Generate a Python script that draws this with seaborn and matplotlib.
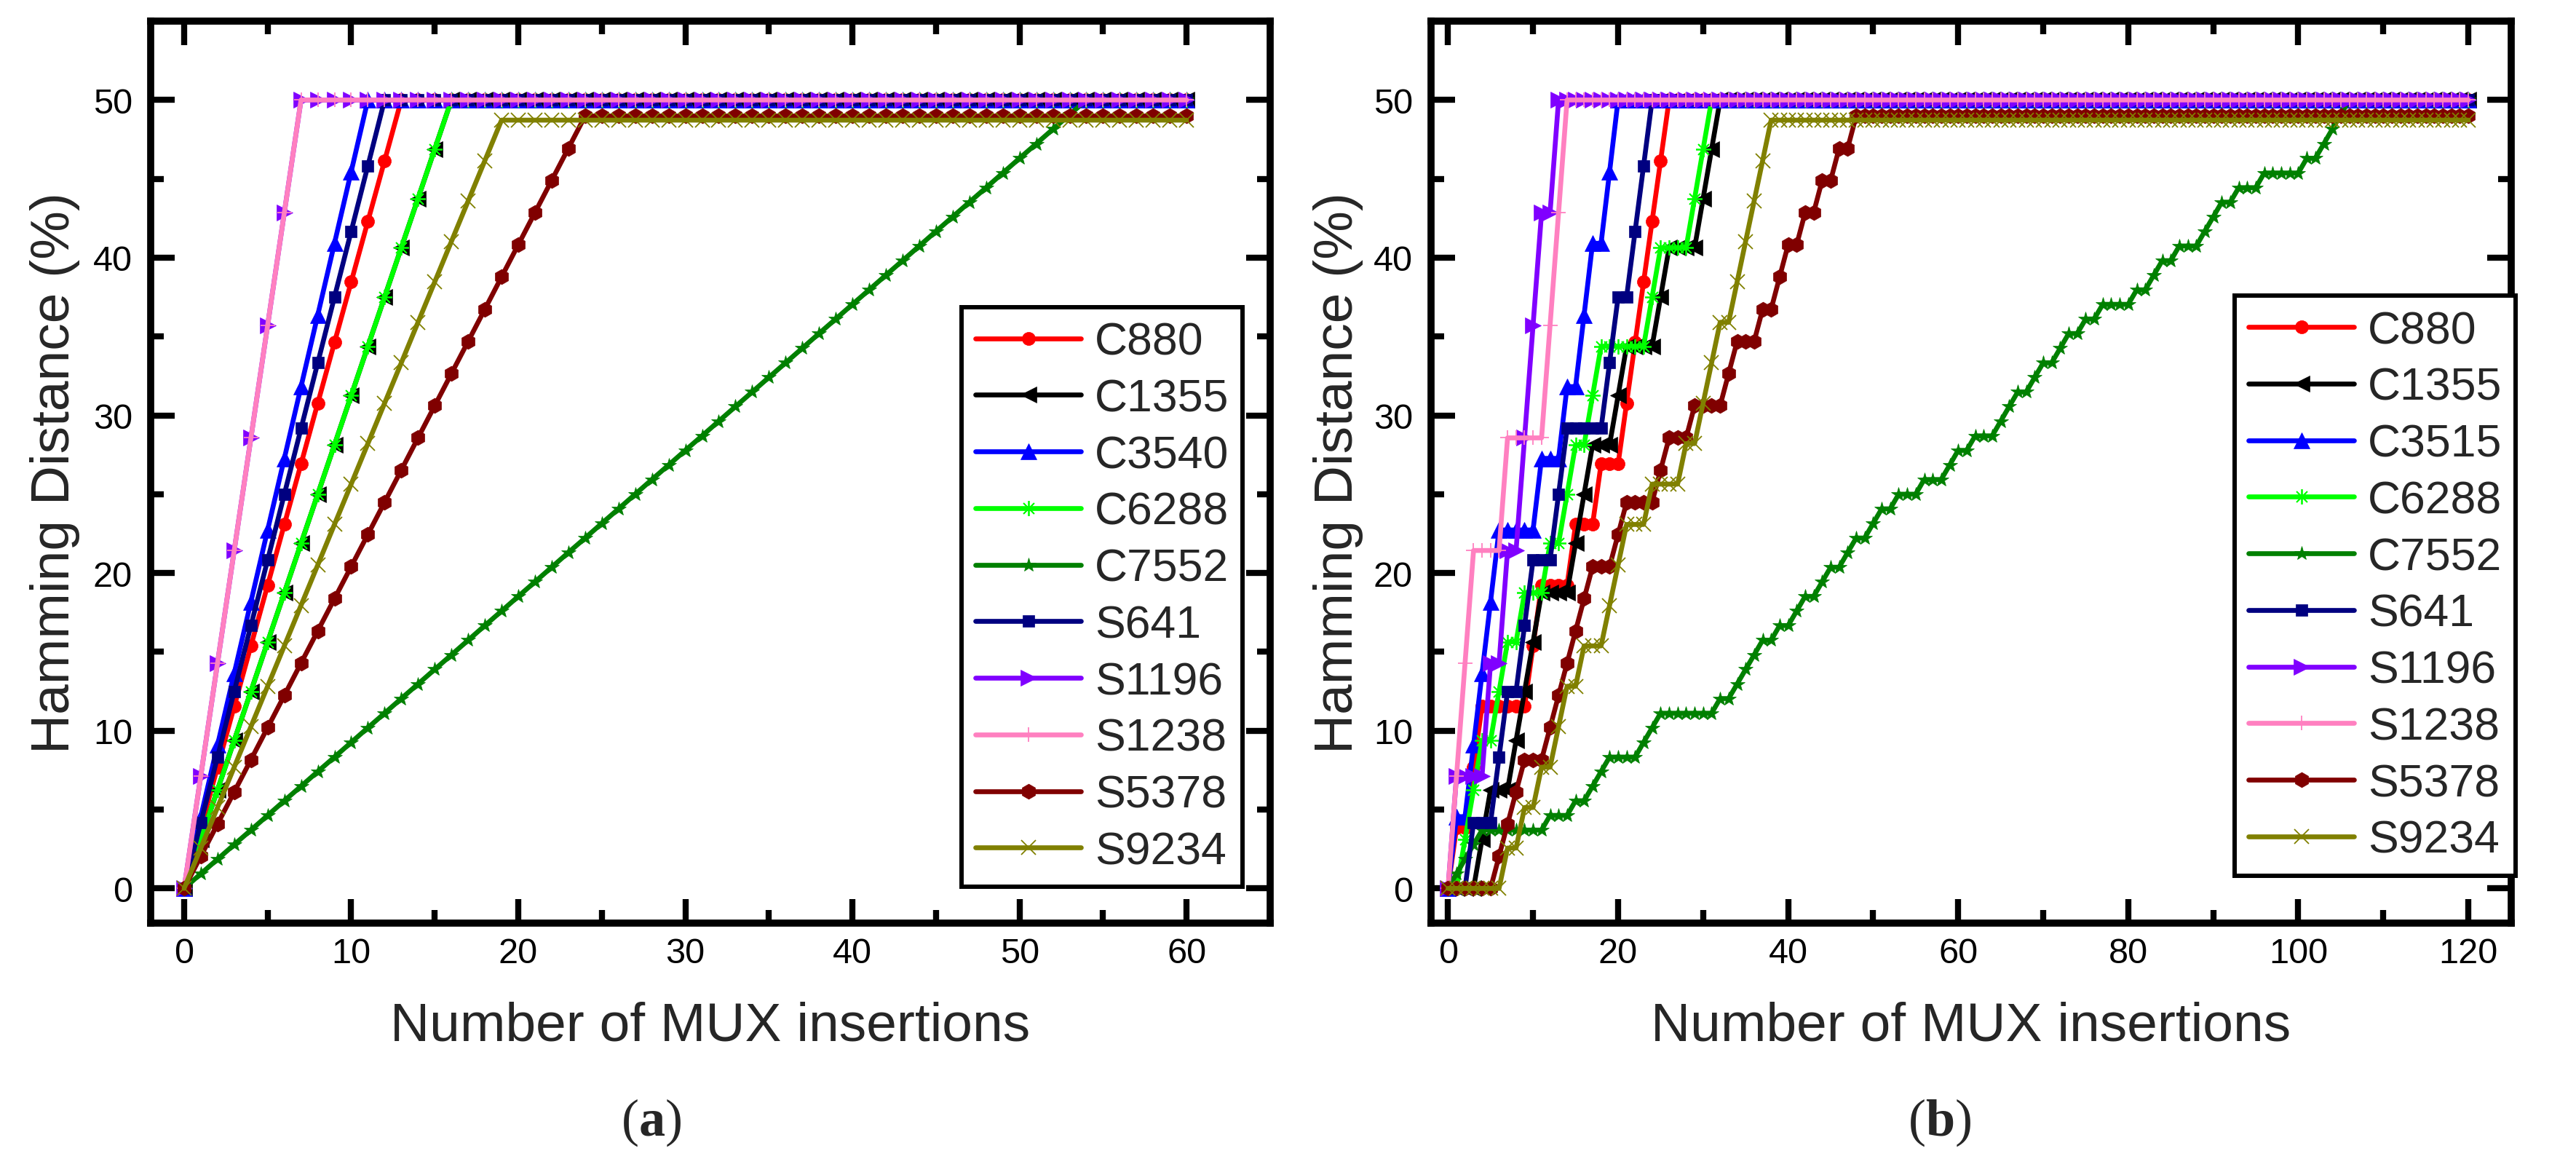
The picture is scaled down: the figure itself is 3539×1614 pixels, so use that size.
import matplotlib
matplotlib.use("Agg")
import matplotlib.pyplot as plt
import seaborn as sns
import pandas as pd
from matplotlib.ticker import MultipleLocator

# ---------------- data ----------------
NAMES_A = ["C880", "C1355", "C3540", "C6288", "C7552", "S641", "S1196", "S1238", "S5378", "S9234"]
NAMES_B = ["C880", "C1355", "C3515", "C6288", "C7552", "S641", "S1196", "S1238", "S5378", "S9234"]
X_A = list(range(0, 61))
X_B = list(range(0, 121))

# panel (a)
C880_A = [0, 3.85, 7.69, 11.54, 15.38, 19.23, 23.08, 26.92, 30.77, 34.62, 38.46, 42.31, 46.15, 50.0] + [50.0] * 47
C1355_A = [0, 3.13, 6.25, 9.38, 12.5, 15.63, 18.75, 21.88, 25.0, 28.13, 31.25, 34.38, 37.5, 40.63, 43.75, 46.88, 50.0] + [50.0] * 44
C3540_A = [0, 4.55, 9.09, 13.64, 18.18, 22.73, 27.27, 31.82, 36.36, 40.91, 45.45, 50.0] + [50.0] * 49
C6288_A = [0, 3.13, 6.25, 9.38, 12.5, 15.63, 18.75, 21.88, 25.0, 28.13, 31.25, 34.38, 37.5, 40.63, 43.75, 46.88, 50.0] + [50.0] * 44
C7552_A = [0, 0.93, 1.85, 2.78, 3.70, 4.63, 5.56, 6.48, 7.41, 8.33, 9.26, 10.19, 11.11, 12.04, 12.96, 13.89,
           14.81, 15.74, 16.67, 17.59, 18.52, 19.44, 20.37, 21.30, 22.22, 23.15, 24.07, 25.00, 25.93, 26.85,
           27.78, 28.70, 29.63, 30.56, 31.48, 32.41, 33.33, 34.26, 35.19, 36.11, 37.04, 37.96, 38.89, 39.81,
           40.74, 41.67, 42.59, 43.52, 44.44, 45.37, 46.30, 47.22, 48.15, 49.07, 50.0] + [50.0] * 6
S641_A = [0, 4.17, 8.33, 12.5, 16.67, 20.83, 25.0, 29.17, 33.33, 37.5, 41.67, 45.83, 50.0] + [50.0] * 48
S1196_A = [0, 7.14, 14.29, 21.43, 28.57, 35.71, 42.86, 50.0] + [50.0] * 53
S1238_A = [0, 7.14, 14.29, 21.43, 28.57, 35.71, 42.86, 50.0] + [50.0] * 53
S5378_A = [0, 2.04, 4.08, 6.12, 8.16, 10.2, 12.24, 14.29, 16.33, 18.37, 20.41, 22.45, 24.49, 26.53, 28.57,
           30.61, 32.65, 34.69, 36.73, 38.78, 40.82, 42.86, 44.9, 46.94, 48.98] + [48.98] * 36
S9234_A = [0, 2.56, 5.13, 7.69, 10.26, 12.82, 15.38, 17.95, 20.51, 23.08, 25.64, 28.21, 30.77, 33.33, 35.9,
           38.46, 41.03, 43.59, 46.15, 48.72] + [48.72] * 41

# panel (b)
C880_B = [0, 3.85, 3.85, 7.69, 11.54, 11.54, 11.54, 11.54, 11.54, 11.54, 15.38, 19.23, 19.23, 19.23, 19.23,
          23.08, 23.08, 23.08, 26.92, 26.92, 26.92, 30.77, 34.62, 38.46, 42.31, 46.15] + [50.0] * 95
C1355_B = [0, 0, 0, 0, 3.13, 6.25, 6.25, 6.25, 9.38, 12.5, 15.63, 18.75, 18.75, 18.75, 18.75, 21.88, 25.0,
           28.13, 28.13, 28.13, 31.25, 34.38, 34.38, 34.38, 34.38, 37.5, 40.63, 40.63, 40.63, 40.63, 43.75,
           46.88] + [50.0] * 89
C3515_B = [0, 4.55, 4.55, 9.09, 13.64, 18.18, 22.73, 22.73, 22.73, 22.73, 22.73, 27.27, 27.27, 27.27, 31.82,
           31.82, 36.36, 40.91, 40.91, 45.45] + [50.0] * 101
C6288_B = [0, 0, 3.13, 6.25, 9.38, 9.38, 12.5, 15.63, 15.63, 18.75, 18.75, 18.75, 21.88, 21.88, 25.0, 28.13,
           28.13, 31.25, 34.38, 34.38, 34.38, 34.38, 34.38, 34.38, 37.5, 40.63, 40.63, 40.63, 40.63, 43.75,
           46.88] + [50.0] * 90
C7552_B = [0, 0.93, 1.85, 2.78, 3.70, 3.70, 3.70, 3.70, 3.70, 3.70, 3.70, 3.70, 4.63, 4.63, 4.63, 5.56, 5.56,
           6.48, 7.41, 8.33, 8.33, 8.33, 8.33, 9.26, 10.19, 11.11, 11.11, 11.11, 11.11, 11.11, 11.11, 11.11,
           12.04, 12.04, 12.96, 13.89, 14.81, 15.74, 15.74, 16.67, 16.67, 17.59, 18.52, 18.52, 19.44, 20.37,
           20.37, 21.30, 22.22, 22.22, 23.15, 24.07, 24.07, 25.00, 25.00, 25.00, 25.93, 25.93, 25.93, 26.85,
           27.78, 27.78, 28.70, 28.70, 28.70, 29.63, 30.56, 31.48, 31.48, 32.41, 33.33, 33.33, 34.26, 35.19,
           35.19, 36.11, 36.11, 37.04, 37.04, 37.04, 37.04, 37.96, 37.96, 38.89, 39.81, 39.81, 40.74, 40.74,
           40.74, 41.67, 42.59, 43.52, 43.52, 44.44, 44.44, 44.44, 45.37, 45.37, 45.37, 45.37, 45.37, 46.30,
           46.30, 47.22, 48.15, 49.07] + [50.0] * 15
S641_B = [0, 0, 0, 4.17, 4.17, 4.17, 8.33, 12.5, 12.5, 16.67, 20.83, 20.83, 20.83, 25.0, 29.17, 29.17, 29.17,
          29.17, 29.17, 33.33, 37.5, 37.5, 41.67, 45.83] + [50.0] * 97
S1196_B = [0, 7.14, 7.14, 7.14, 7.14, 14.29, 14.29, 21.43, 21.43, 28.57, 35.71, 42.86, 42.86] + [50.0] * 108
S1238_B = [0, 7.14, 14.29, 21.43, 21.43, 21.43, 21.43, 28.57, 28.57, 28.57, 28.57, 28.57, 35.71, 42.86] + [50.0] * 107
S5378_B = [0, 0, 0, 0, 0, 0, 2.04, 4.08, 6.12, 8.16, 8.16, 8.16, 10.2, 12.24, 14.29, 16.33, 18.37, 20.41,
           20.41, 20.41, 22.45, 24.49, 24.49, 24.49, 24.49, 26.53, 28.57, 28.57, 28.57, 30.61, 30.61, 30.61,
           30.61, 32.65, 34.69, 34.69, 34.69, 36.73, 36.73, 38.78, 40.82, 40.82, 42.86, 42.86, 44.9, 44.9,
           46.94, 46.94] + [48.98] * 73
S9234_B = [0, 0, 0, 0, 0, 0, 0, 2.56, 2.56, 5.13, 5.13, 7.69, 7.69, 10.26, 12.82, 12.82, 15.38, 15.38, 15.38,
           17.95, 20.51, 23.08, 23.08, 23.08, 25.64, 25.64, 25.64, 25.64, 28.21, 28.21, 30.77, 33.33, 35.9,
           35.9, 38.46, 41.03, 43.59, 46.15] + [48.72] * 83

SERIES_A = [C880_A, C1355_A, C3540_A, C6288_A, C7552_A, S641_A, S1196_A, S1238_A, S5378_A, S9234_A]
SERIES_B = [C880_B, C1355_B, C3515_B, C6288_B, C7552_B, S641_B, S1196_B, S1238_B, S5378_B, S9234_B]
for s in SERIES_A:
    assert len(s) == len(X_A), len(s)
for s in SERIES_B:
    assert len(s) == len(X_B), len(s)

X_TICKS_A = [0, 10, 20, 30, 40, 50, 60]
X_TICKS_B = [0, 20, 40, 60, 80, 100, 120]
Y_TICKS = [0, 10, 20, 30, 40, 50]

# ---------------- styles ----------------
STYLES = [
    dict(color="#FF0000", marker="o", ms=13, mew=0.5),
    dict(color="#000000", marker="<", ms=16, mew=0.5),
    dict(color="#0000FF", marker="^", ms=16, mew=0.5),
    dict(color="#00FF00", marker=(8, 2, 0), ms=15, mew=1.3),
    dict(color="#008000", marker="*", ms=15, mew=0.5),
    dict(color="#000080", marker="s", ms=12, mew=0.5),
    dict(color="#8000FF", marker=">", ms=16, mew=0.5),
    dict(color="#FF80C0", marker="+", ms=15, mew=1.3),
    dict(color="#800000", marker="h", ms=15, mew=0.5),
    dict(color="#808000", marker="x", ms=15, mew=1.3),
]

sns.set_theme(style="ticks")
plt.rcParams["font.family"] = ["Liberation Sans", "DejaVu Sans"]
plt.rcParams["mathtext.fontset"] = "custom"
plt.rcParams["mathtext.bf"] = "Liberation Serif:bold"
plt.rcParams["mathtext.rm"] = "Liberation Serif"

W, H = 3539, 1615
fig = plt.figure(figsize=(W / 100, H / 100), dpi=100)
fig.patch.set_facecolor("white")

ax_bottom = 1 - 1269 / H
ax_height = 1239 / H
axA = fig.add_axes([207 / W, ax_bottom, 1538 / W, ax_height])
axB = fig.add_axes([1966 / W, ax_bottom, 1483.5 / W, ax_height])


def draw(ax, xs, series, names, xlim, xmin, xticks, leg_anchor):
    handles = []
    for vals, name, st in zip(series, names, STYLES):
        df = pd.DataFrame({"x": xs, "y": vals})
        sns.lineplot(data=df, x="x", y="y", ax=ax, color=st["color"], linewidth=4.8,
                     marker=st["marker"], markersize=st["ms"], sort=False,
                     estimator=None, errorbar=None, legend=False)
        ln = ax.lines[-1]
        ln.set_markeredgecolor(st["color"])
        ln.set_markerfacecolor(st["color"])
        ln.set_markeredgewidth(st["mew"])
        ln.set_solid_joinstyle("round")
        handles.append(ln)
    ax.set_xlim(*xlim)
    ax.set_ylim(-2.2, 55)
    ax.set_xticks(xticks)
    ax.set_yticks(Y_TICKS)
    ax.xaxis.set_minor_locator(MultipleLocator(xmin))
    ax.yaxis.set_minor_locator(MultipleLocator(5))
    ax.tick_params(which="both", direction="in", top=True, right=True, colors="black")
    ax.tick_params(which="major", length=24, width=6)
    ax.tick_params(which="minor", length=13, width=6)
    ax.tick_params(axis="x", which="major", labelsize=35, pad=14)
    ax.tick_params(axis="y", which="major", labelsize=35, pad=18)
    for sp in ax.spines.values():
        sp.set_linewidth(7)
        sp.set_color("black")
        sp.set_visible(True)
    ax.set_xlabel("Number of MUX insertions", fontsize=54)
    ax.set_ylabel("Hamming Distance (%)", fontsize=54)
    ax.xaxis.set_label_coords(0.5, -0.086)
    ax.yaxis.set_label_coords(-0.063, 0.5)
    ax.set_facecolor("white")
    ax.grid(False)
    leg = ax.legend(handles, names, loc="upper left", bbox_to_anchor=leg_anchor,
                    borderaxespad=0, frameon=True, fancybox=False, framealpha=1,
                    edgecolor="black", fontsize=45, handlelength=2.32, handletextpad=0.3,
                    labelspacing=0.30, borderpad=0.3, numpoints=1)
    leg.get_frame().set_linewidth(4.3)
    leg.set_zorder(10)


draw(axA, X_A, SERIES_A, NAMES_A, (-2, 65), 5, X_TICKS_A, (0.7245, 0.683))
draw(axB, X_B, SERIES_B, NAMES_B, (-2, 125), 10, X_TICKS_B, (0.7445, 0.6955))

fig.text(895 / W, 1 - 1542 / H, r"($\mathbf{a}$)", fontsize=52, ha="center", va="center",
         family="Liberation Serif")
fig.text(2665 / W, 1 - 1542 / H, r"($\mathbf{b}$)", fontsize=52, ha="center", va="center",
         family="Liberation Serif")

fig.savefig("out.png", dpi=100, facecolor="white")
